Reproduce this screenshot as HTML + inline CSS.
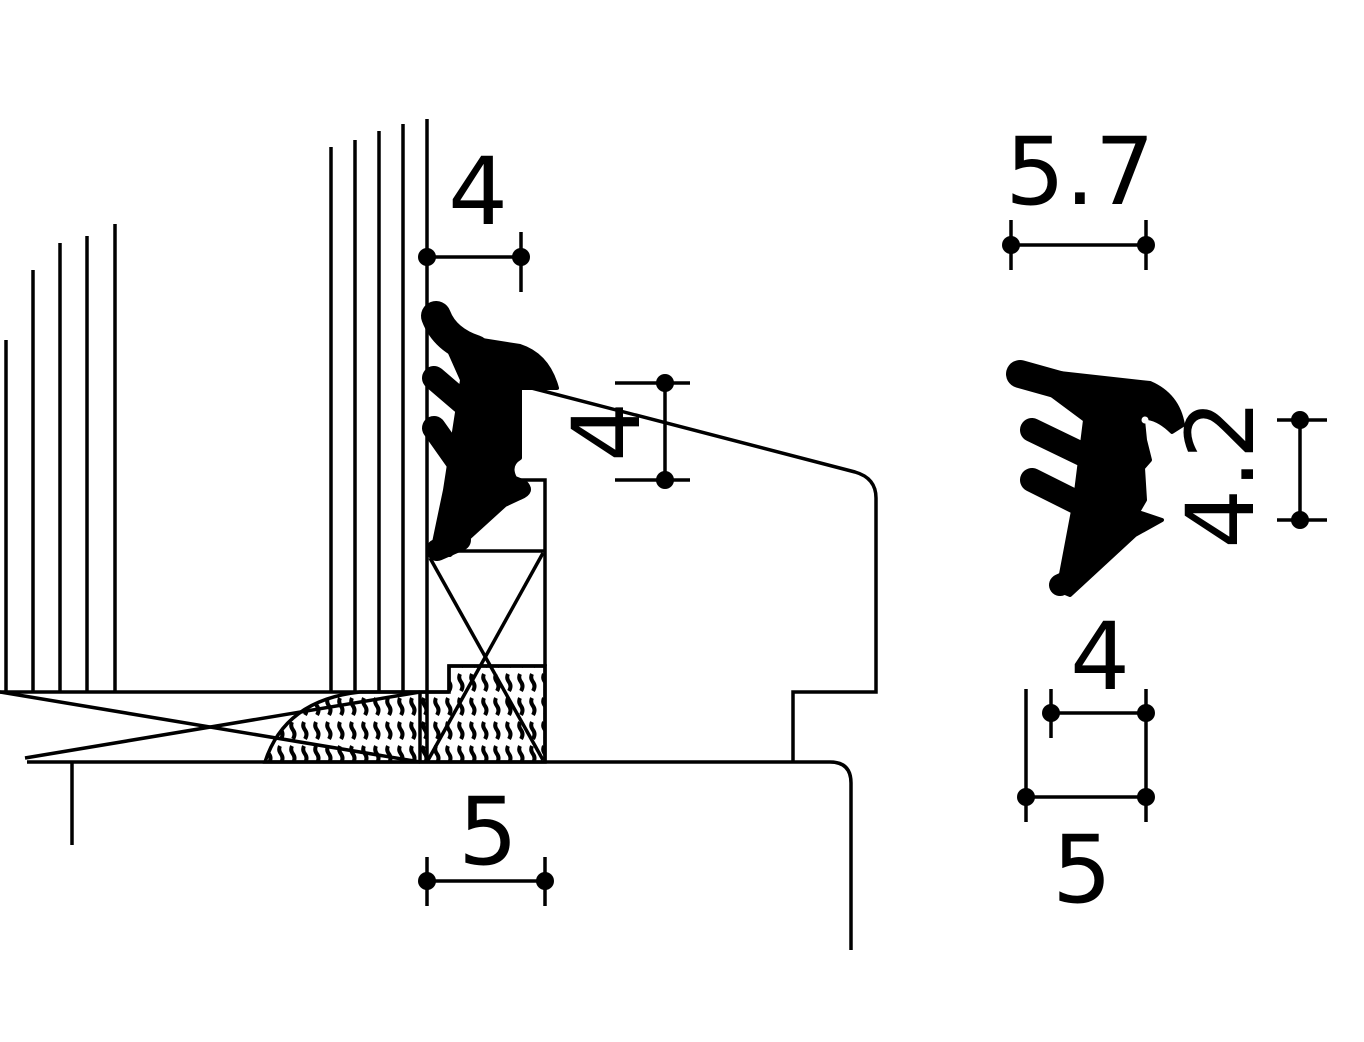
<!DOCTYPE html>
<html><head><meta charset="utf-8"><style>
html,body{margin:0;padding:0;background:#fff;}
svg{display:block;}
text{font-family:"DejaVu Sans","Liberation Sans",sans-serif;fill:#000;}
</style></head><body>
<svg width="1364" height="1042" viewBox="0 0 1364 1042" xmlns="http://www.w3.org/2000/svg">
<defs>
<pattern id="h" width="12" height="24" patternUnits="userSpaceOnUse">
<path d="M4 2 q-2 4 1 8 q3 4 0 9" stroke="#000" stroke-width="4" fill="none"/>
</pattern>
</defs>
<g stroke="#000" stroke-width="3.5" fill="none">
<line x1="6" y1="340" x2="6" y2="692"/>
<line x1="33" y1="270" x2="33" y2="692"/>
<line x1="60" y1="243" x2="60" y2="692"/>
<line x1="87" y1="236" x2="87" y2="692"/>
<line x1="115" y1="224" x2="115" y2="692"/>
<line x1="331" y1="147" x2="331" y2="692"/>
<line x1="355" y1="140" x2="355" y2="692"/>
<line x1="379" y1="131" x2="379" y2="692"/>
<line x1="403" y1="124" x2="403" y2="692"/>
<line x1="427" y1="119" x2="427" y2="762"/>
<line x1="0" y1="692" x2="449" y2="692"/>
<polyline points="449,692 449,666 545,666 545,762"/>
<polyline points="520,480 545,480 545,666"/>
<line x1="427" y1="551" x2="545" y2="551"/>
<line x1="430" y1="558" x2="543" y2="760"/>
<line x1="543" y1="553" x2="427" y2="762"/>
<path d="M265,762 Q285,700 360,692 L449,692 L449,666 L545,666 L545,762 Z" fill="url(#h)" stroke="#000"/>
<line x1="420" y1="692" x2="420" y2="762"/>
<line x1="0" y1="692" x2="420" y2="762"/>
<line x1="25" y1="758" x2="420" y2="692"/>
<path d="M27,762 L830,762 Q851,762 851,783 L851,950"/>
<line x1="72" y1="762" x2="72" y2="845"/>
<path d="M520,385 L855,472 Q876,478 876,498 L876,692 L793,692 L793,762"/>
<line x1="427" y1="257" x2="521" y2="257"/>
<line x1="521" y1="232" x2="521" y2="292"/>
<line x1="427" y1="881" x2="545" y2="881"/>
<line x1="427" y1="857" x2="427" y2="906"/>
<line x1="545" y1="857" x2="545" y2="906"/>
<line x1="665" y1="383" x2="665" y2="480"/>
<line x1="615" y1="383" x2="690" y2="383"/>
<line x1="615" y1="480" x2="690" y2="480"/>
<line x1="1011" y1="245" x2="1146" y2="245"/>
<line x1="1011" y1="220" x2="1011" y2="270"/>
<line x1="1146" y1="220" x2="1146" y2="270"/>
<line x1="1300" y1="420" x2="1300" y2="520"/>
<line x1="1277" y1="420" x2="1327" y2="420"/>
<line x1="1277" y1="520" x2="1327" y2="520"/>
<line x1="1051" y1="713" x2="1146" y2="713"/>
<line x1="1051" y1="689" x2="1051" y2="738"/>
<line x1="1026" y1="797" x2="1146" y2="797"/>
<line x1="1026" y1="689" x2="1026" y2="822"/>
<line x1="1146" y1="689" x2="1146" y2="822"/>
</g>
<g fill="#000">
<circle cx="427" cy="257" r="9"/><circle cx="521" cy="257" r="9"/>
<circle cx="427" cy="881" r="9"/><circle cx="545" cy="881" r="9"/>
<circle cx="665" cy="383" r="9"/><circle cx="665" cy="480" r="9"/>
<circle cx="1011" cy="245" r="9"/><circle cx="1146" cy="245" r="9"/>
<circle cx="1300" cy="420" r="9"/><circle cx="1300" cy="520" r="9"/>
<circle cx="1051" cy="713" r="9"/><circle cx="1146" cy="713" r="9"/>
<circle cx="1026" cy="797" r="9"/><circle cx="1146" cy="797" r="9"/>
</g>
<g fill="#000" stroke="#000" stroke-linecap="round" stroke-linejoin="round">
<path d="M430,308 Q445,300 452,322 Q462,342 482,340 L520,346 Q548,355 557,388 L520,388 L520,458 Q508,465 515,478 L525,482 Q535,492 520,498 L505,505 L450,555 L432,552 L445,490 L462,380 Z" stroke-width="4"/>
<path d="M436,316 Q445,340 475,350" stroke-width="30" fill="none"/>
<line x1="434" y1="378" x2="462" y2="402" stroke-width="24"/>
<line x1="434" y1="428" x2="458" y2="462" stroke-width="24"/>
<line x1="437" y1="550" x2="460" y2="540" stroke-width="22"/>
<path d="M1015,368 L1150,383 Q1178,395 1183,425 L1172,432 Q1160,420 1148,418 L1143,420 L1145,440 L1150,460 L1143,468 L1145,500 L1138,512 L1162,520 L1135,535 L1070,595 L1058,590 L1075,500 L1085,420 Z" stroke-width="4"/>
<line x1="1020" y1="374" x2="1095" y2="395" stroke-width="28"/>
<line x1="1032" y1="430" x2="1090" y2="458" stroke-width="24"/>
<line x1="1032" y1="480" x2="1082" y2="505" stroke-width="24"/>
<line x1="1060" y1="585" x2="1075" y2="578" stroke-width="22"/>
</g>
<circle cx="1145" cy="420" r="3.5" fill="#fff"/>
<text x="478" y="224" font-size="94" text-anchor="middle">4</text>
<text x="488" y="864" font-size="94" text-anchor="middle">5</text>
<text x="1080" y="204" font-size="94" text-anchor="middle">5.7</text>
<text x="1100" y="689" font-size="94" text-anchor="middle">4</text>
<text x="1082" y="902" font-size="94" text-anchor="middle">5</text>
<text transform="translate(639,432) rotate(-90)" font-size="94" text-anchor="middle">4</text>
<text transform="translate(1253,474) rotate(-90)" font-size="94" text-anchor="middle">4.2</text>
</svg>
</body></html>
